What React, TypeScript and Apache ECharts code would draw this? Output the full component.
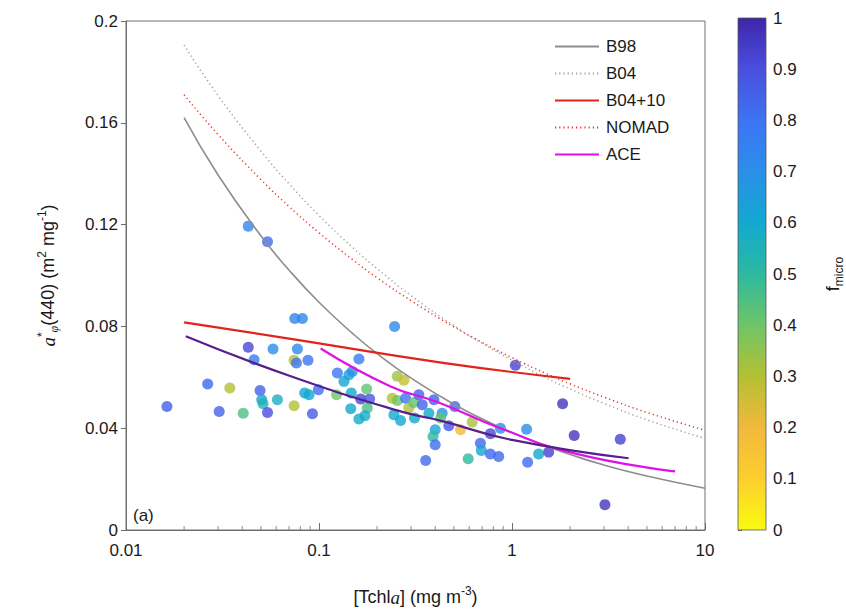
import React, { useEffect, useRef } from 'react';
import * as echarts from 'echarts';

// ---- data ----
const X_MINOR_TICKS = [0.02, 0.03, 0.04, 0.05, 0.06, 0.07, 0.08, 0.09, 0.2, 0.3, 0.4, 0.5, 0.6, 0.7, 0.8, 0.9, 2, 3, 4, 5, 6, 7, 8, 9];

const CURVE_X = [0.02, 0.03, 0.05, 0.07, 0.1, 0.15, 0.2, 0.3, 0.5, 0.7, 1, 1.5, 2, 3, 5, 10];
const B98 = [0.162, 0.1395, 0.1156, 0.1021, 0.0895, 0.0771, 0.0693, 0.0597, 0.0494, 0.0437, 0.0383, 0.033, 0.0297, 0.0255, 0.0212, 0.0164];
const B04 = [0.1905, 0.1707, 0.1489, 0.136, 0.1236, 0.1109, 0.1027, 0.0921, 0.0803, 0.0734, 0.0667, 0.0598, 0.0554, 0.0497, 0.0433, 0.036];
const NOMAD = [0.171, 0.1554, 0.1377, 0.1271, 0.1168, 0.1061, 0.0991, 0.0901, 0.0798, 0.0737, 0.0677, 0.0615, 0.0574, 0.0522, 0.0462, 0.0392];

const B0410_X = [0.02, 0.07, 0.43, 2];
const B0410 = [0.0816, 0.0752, 0.0658, 0.0594];

const ACE_X = [0.102, 0.235, 0.41, 0.87, 2.08, 7.0];
const ACE = [0.0713, 0.0564, 0.0503, 0.04, 0.0302, 0.023];

const FIT_X = [0.0204, 0.0714, 0.2646, 0.4263, 1, 4.02];
const FIT = [0.0761, 0.0604, 0.0466, 0.043, 0.0354, 0.0282];

const PTS_X = [0.0163, 0.0265, 0.0304, 0.0345, 0.0405, 0.043, 0.0541, 0.043, 0.0461, 0.0578,
  0.0495, 0.0505, 0.0513, 0.0541, 0.0609, 0.0743, 0.0749, 0.082, 0.0773, 0.0743,
  0.0764, 0.0877, 0.0843, 0.0888, 0.0993, 0.0925, 0.1245, 0.1233, 0.1347, 0.1429,
  0.1487, 0.161, 0.147, 0.146, 0.1644, 0.183, 0.1765, 0.178, 0.161, 0.173,
  0.2464, 0.2545, 0.2755, 0.2397, 0.2545, 0.2444, 0.2646, 0.281, 0.292, 0.31,
  0.329, 0.343, 0.3125, 0.357, 0.394, 0.371, 0.4, 0.39, 0.4, 0.4345,
  0.4266, 0.4705, 0.5055, 0.541, 0.622, 0.593, 0.686, 0.694, 0.773, 0.773,
  0.853, 0.871, 1.041, 1.19, 1.205, 1.374, 1.549, 1.829, 2.1, 3.64, 3.03];
const PTS_Y = [0.0485, 0.0574, 0.0466, 0.0558, 0.0459, 0.1194, 0.1133, 0.0718, 0.0669, 0.0711,
  0.0548, 0.0512, 0.0496, 0.0462, 0.0512, 0.0488, 0.0831, 0.0831, 0.0711, 0.0667,
  0.0656, 0.0667, 0.0538, 0.0531, 0.0551, 0.0457, 0.0617, 0.0531, 0.0584, 0.061,
  0.0623, 0.0672, 0.0538, 0.0476, 0.0515, 0.0515, 0.0554, 0.0479, 0.0436, 0.0449,
  0.08, 0.0604, 0.0588, 0.0518, 0.0509, 0.0453, 0.043, 0.0518, 0.0479, 0.0501,
  0.0531, 0.0492, 0.044, 0.0273, 0.0512, 0.0459, 0.0394, 0.0367, 0.0335, 0.0459,
  0.044, 0.041, 0.0485, 0.0394, 0.0424, 0.028, 0.0341, 0.0312, 0.0378, 0.0299,
  0.0289, 0.04, 0.0647, 0.0396, 0.0266, 0.0299, 0.0306, 0.0496, 0.0371, 0.0357, 0.00997];
const PTS_F = [0.85, 0.83, 0.85, 0.3, 0.45, 0.73, 0.82, 0.92, 0.78, 0.7,
  0.85, 0.62, 0.55, 0.9, 0.57, 0.3, 0.73, 0.73, 0.72, 0.3,
  0.8, 0.8, 0.62, 0.6, 0.82, 0.87, 0.8, 0.4, 0.62, 0.63,
  0.7, 0.78, 0.6, 0.6, 0.92, 0.88, 0.42, 0.45, 0.58, 0.58,
  0.72, 0.33, 0.27, 0.3, 0.4, 0.6, 0.6, 0.8, 0.3, 0.42,
  0.85, 0.85, 0.6, 0.83, 0.85, 0.6, 0.62, 0.5, 0.82, 0.68,
  0.42, 0.88, 0.83, 0.2, 0.32, 0.5, 0.83, 0.62, 0.92, 0.83,
  0.83, 0.7, 0.93, 0.7, 0.82, 0.6, 0.93, 0.96, 0.96, 0.93, 0.96];

const CBAR_TICKS = [0, 0.1, 0.2, 0.3, 0.4, 0.5, 0.6, 0.7, 0.8, 0.9, 1];
// colour at f = 0, 0.1, ..., 1 (parula, reversed)
const PALETTE = ['#f9fb0e', '#fccf2e', '#f2b83c', '#b4c034', '#6fc566', '#2db9a0', '#12a9d0', '#2a8fe8', '#3c74f4', '#4a4fe0', '#3e26a8'];

const FONT = 'Liberation Sans, Arial, Helvetica, sans-serif';
const TXT = '#1a1a1a';
const AX = '#6e6e6e';

const pairs = (xs: number[], ys: number[]) => xs.map((x, i) => [x, ys[i]]);

export default function App() {
  const ref = useRef<HTMLDivElement>(null);
  useEffect(() => {
    const chart = echarts.init(ref.current!, null, { renderer: 'svg' });
    const lineBase = { type: 'line', symbol: 'none', showSymbol: false, smooth: true, z: 5, xAxisIndex: 0, yAxisIndex: 0 };
    const option: any = {
      animation: false,
      textStyle: { fontFamily: FONT },
      grid: [
        { left: 126, top: 21, width: 579, height: 509, show: true, borderColor: AX, borderWidth: 1, backgroundColor: 'transparent' },
        { left: 738, top: 18, width: 28, height: 512, show: false },
      ],
      xAxis: [
        {
          type: 'log', logBase: 10, min: 0.01, max: 10, gridIndex: 0,
          name: '{n|[Tchl}{i|a}{n|] (mg m}{s|-3}{n|)}',
          nameLocation: 'middle', nameGap: 55,
          nameTextStyle: {
            color: TXT, fontSize: 18, fontFamily: FONT,
            rich: {
              n: { fontSize: 18, lineHeight: 24, color: TXT, fontFamily: FONT },
              i: { fontSize: 19, lineHeight: 24, color: TXT, fontStyle: 'italic', fontFamily: 'Liberation Serif, serif' },
              s: { fontSize: 12, lineHeight: 12, color: TXT, verticalAlign: 'top', fontFamily: FONT },
            },
          },
          axisLine: { show: true, lineStyle: { color: AX, width: 1 } },
          axisTick: { show: true, inside: true, length: 7, lineStyle: { color: AX } },
          axisLabel: { color: TXT, fontSize: 17, margin: 12, fontFamily: FONT },
          splitLine: { show: false },
        },
        { type: 'value', gridIndex: 1, show: false, min: 0, max: 1 },
      ],
      yAxis: [
        {
          type: 'value', min: 0, max: 0.2, interval: 0.04, gridIndex: 0,
          name: '{i|a}{s|*}{b|φ}{n|(440) (m}{s|2}{n| mg}{s|-1}{n|)}',
          nameLocation: 'middle', nameRotate: 90, nameGap: 66,
          nameTextStyle: {
            color: TXT, fontSize: 18, fontFamily: FONT,
            rich: {
              n: { fontSize: 18, lineHeight: 24, color: TXT, fontFamily: FONT },
              i: { fontSize: 19, lineHeight: 24, color: TXT, fontStyle: 'italic', fontFamily: 'Liberation Serif, serif' },
              s: { fontSize: 12, lineHeight: 12, color: TXT, verticalAlign: 'top', fontFamily: FONT },
              b: { fontSize: 12, lineHeight: 12, color: TXT, verticalAlign: 'bottom', fontStyle: 'italic', fontFamily: 'Liberation Serif, serif' },
            },
          },
          axisLine: { show: true, lineStyle: { color: AX, width: 1 } },
          axisTick: { show: true, inside: false, length: 5, lineStyle: { color: AX } },
          axisLabel: { color: TXT, fontSize: 17, margin: 8, fontFamily: FONT },
          splitLine: { show: false },
        },
        {
          type: 'value', min: 0, max: 1, interval: 0.1, gridIndex: 1, position: 'right',
          name: '{n|f}{b|micro}',
          nameLocation: 'middle', nameRotate: 90, nameGap: 56,
          nameTextStyle: {
            color: TXT, fontSize: 18, fontFamily: FONT,
            rich: {
              n: { fontSize: 18, lineHeight: 24, color: TXT, fontFamily: FONT },
              b: { fontSize: 12, lineHeight: 12, color: TXT, verticalAlign: 'bottom', fontFamily: FONT },
            },
          },
          axisLine: { show: false },
          axisTick: { show: true, inside: false, length: 4, lineStyle: { color: AX } },
          axisLabel: { color: TXT, fontSize: 17, margin: 8, fontFamily: FONT },
          splitLine: { show: false },
          data: CBAR_TICKS,
        },
      ],
      visualMap: {
        type: 'continuous', show: false, min: 0, max: 1, dimension: 2, seriesIndex: 0,
        inRange: { color: PALETTE },
      },
      legend: {
        orient: 'vertical', left: 554, top: 38, padding: 0, itemGap: 10,
        itemWidth: 44, itemHeight: 14,
        itemStyle: { opacity: 0 },
        data: ['B98', 'B04', 'B04+10', 'NOMAD', 'ACE'],
        textStyle: { color: TXT, fontSize: 17, fontFamily: FONT, padding: [0, 0, 0, 2] },
      },
      graphic: [
        {
          type: 'rect', x: 738, y: 18, shape: { width: 28, height: 512 }, z: 10,
          style: {
            fill: new echarts.graphic.LinearGradient(0, 0, 0, 1,
              PALETTE.map((c, i) => ({ offset: 1 - i / (PALETTE.length - 1), color: c })).reverse()),
            stroke: '#555', lineWidth: 0.8,
          },
        },
        {
          type: 'text', x: 133, y: 507, z: 10,
          style: { text: '(a)', fontSize: 17, fontFamily: FONT, fill: TXT },
        },
      ],
      series: [
        {
          name: 'samples', type: 'scatter', symbolSize: 11, z: 3,
          xAxisIndex: 0, yAxisIndex: 0,
          data: PTS_X.map((x, i) => [x, PTS_Y[i], PTS_F[i]]),
        },
        { ...lineBase, name: 'B98', data: pairs(CURVE_X, B98), lineStyle: { color: '#8d8d8d', width: 1.6 }, itemStyle: { color: '#8d8d8d' } },
        { ...lineBase, name: 'B04', data: pairs(CURVE_X, B04), lineStyle: { color: '#a0a0a0', width: 1.5, type: [1.2, 3] }, itemStyle: { color: '#a0a0a0' } },
        { ...lineBase, name: 'B04+10', data: pairs(B0410_X, B0410), lineStyle: { color: '#e2231a', width: 2.2 }, itemStyle: { color: '#e2231a' } },
        { ...lineBase, name: 'NOMAD', data: pairs(CURVE_X, NOMAD), lineStyle: { color: '#e8352a', width: 1.5, type: [1.2, 3] }, itemStyle: { color: '#e8352a' } },
        { ...lineBase, name: 'ACE', data: pairs(ACE_X, ACE), lineStyle: { color: '#e011e6', width: 2.2 }, itemStyle: { color: '#e011e6' } },
        { ...lineBase, name: 'fit', data: pairs(FIT_X, FIT), lineStyle: { color: '#55208c', width: 2.2 }, itemStyle: { color: '#55208c' } },
        {
          name: 'minorTicks', type: 'scatter', silent: true, clip: false, z: 4,
          xAxisIndex: 0, yAxisIndex: 0,
          symbol: 'rect', symbolSize: [1, 4], symbolOffset: [0, -2],
          itemStyle: { color: AX },
          data: X_MINOR_TICKS.map((v) => [v, 0]),
        },
      ],
    };
    chart.setOption(option);
    return () => chart.dispose();
  }, []);
  return <div ref={ref} style={{ position: 'absolute', left: 0, top: 0, width: 846, height: 614 }} />;
}
